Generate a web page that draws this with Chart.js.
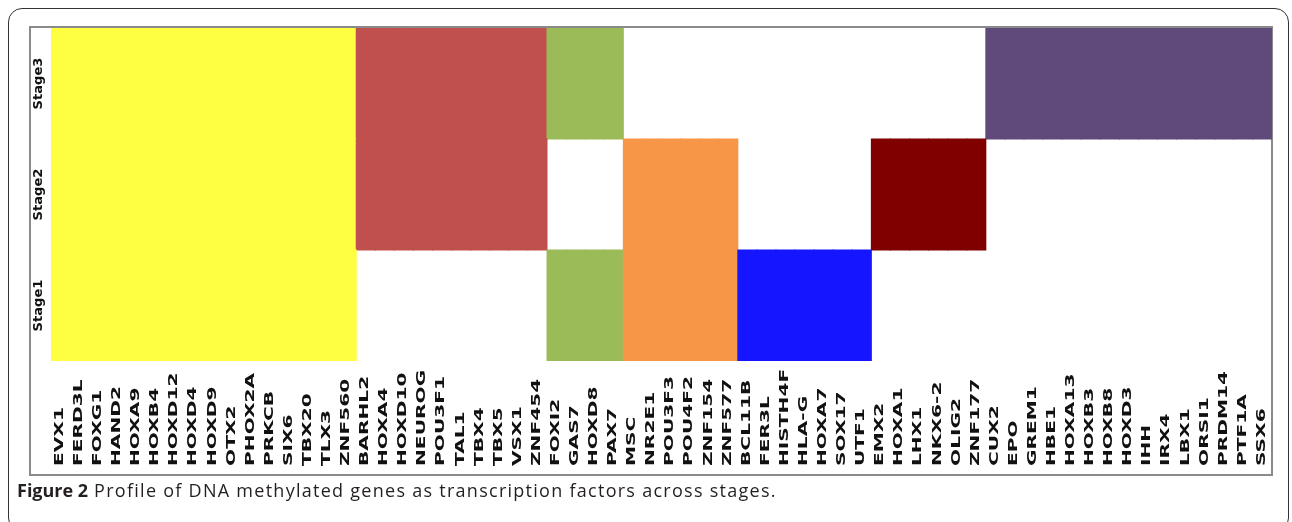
<!DOCTYPE html>
<html>
<head>
<meta charset="utf-8">
<script src="https://cdn.jsdelivr.net/npm/chart.js@4/dist/chart.umd.min.js"></script>
<style>
    html, body { margin: 0; padding: 0; background: #fff; }
    #wrap { position: relative; width: 1292px; height: 522px; overflow: hidden; }
    #box {
        position: absolute; left: 8px; top: 8px; width: 1281px; height: 524px;
        border: 1.5px solid #333; border-radius: 14px; box-sizing: border-box;
    }
    canvas { position: absolute; left: 0; top: 0; }
    #caption {
        position: absolute; left: 17px; top: 478px;
        font-family: "Open Sans", sans-serif; font-size: 18px; color: #231f20;
        white-space: nowrap; letter-spacing: 1.27px;
    }
    #caption b { letter-spacing: 0; }
</style>
</head>
<body>
<div id="wrap">
    <div id="box"></div>
    <canvas id="heat" width="1292" height="522"></canvas>
    <div id="caption"><b>Figure 2</b> Profile of DNA methylated genes as transcription factors across stages.</div>
</div>
<script>
const genes = [
    "EVX1", "FERD3L", "FOXG1", "HAND2", "HOXA9", "HOXB4", "HOXD12", "HOXD4", "HOXD9", "OTX2",
    "PHOX2A", "PRKCB", "SIX6", "TBX20", "TLX3", "ZNF560",
    "BARHL2", "HOXA4", "HOXD10", "NEUROG", "POU3F1", "TAL1", "TBX4", "TBX5", "VSX1", "ZNF454",
    "FOXI2", "GAS7", "HOXD8", "PAX7",
    "MSC", "NR2E1", "POU3F3", "POU4F2", "ZNF154", "ZNF577",
    "BCL11B", "FER3L", "HISTH4F", "HLA-G", "HOXA7", "SOX17", "UTF1",
    "EMX2", "HOXA1", "LHX1", "NKX6-2", "OLIG2", "ZNF177",
    "CUX2", "EPO", "GREM1", "HBE1", "HOXA13", "HOXB3", "HOXB8", "HOXD3", "IHH", "IRX4",
    "LBX1", "ORSI1", "PRDM14", "PTF1A", "SSX6"
];
// cluster of each gene (same order as genes)
const geneCluster = [
    0,0,0,0,0,0,0,0,0,0,0,0,0,0,0,0,
    1,1,1,1,1,1,1,1,1,1,
    2,2,2,2,
    3,3,3,3,3,3,
    4,4,4,4,4,4,4,
    5,5,5,5,5,5,
    6,6,6,6,6,6,6,6,6,6,6,6,6,6,6
];
const stageLabels = ["Stage1", "Stage2", "Stage3"];
// methylated (1) or not (0) in each stage, per cluster
const stage1 = [1, 0, 1, 1, 1, 0, 0];
const stage2 = [1, 1, 0, 1, 0, 1, 0];
const stage3 = [1, 1, 1, 0, 0, 0, 1];
const clusterColors = ["#ffff42", "#c0504d", "#9bbb59", "#f79646", "#1515ff", "#800000", "#604a7b"];

const stageFlags = [stage1, stage2, stage3];

const datasets = stageFlags.map((flags, s) => ({
    label: stageLabels[s],
    data: genes.map((g, i) => flags[geneCluster[i]] ? [s, s + 1] : null),
    backgroundColor: genes.map((g, i) => clusterColors[geneCluster[i]]),
    borderWidth: 0,
    inflateAmount: 0.5,
    barPercentage: 1,
    categoryPercentage: 1,
    grouped: false
}));

const labelPlugin = {
    id: "labels",
    beforeDraw(chart) {
        const { ctx, chartArea } = chart;
        ctx.save();
        ctx.strokeStyle = "#8a8a8a";
        ctx.lineWidth = 2;
        ctx.strokeRect(chartArea.left - 21, chartArea.top - 1, chartArea.right - chartArea.left + 21, chartArea.bottom - chartArea.top + 115);
        ctx.restore();
    },
    afterDraw(chart) {
        const { ctx, scales } = chart;
        const x = scales.x, y = scales.y;
        ctx.save();
        ctx.fillStyle = "#111";
        ctx.font = "bold 13px 'DejaVu Sans'";
        ctx.textBaseline = "middle";
        ctx.textAlign = "left";
        genes.forEach((g, i) => {
            ctx.save();
            ctx.translate(x.getPixelForValue(i) - 1, y.bottom + 105);
            ctx.rotate(-Math.PI / 2);
            ctx.scale(1.55, 1);
            ctx.fillText(g, 0, 0);
            ctx.restore();
        });
        ctx.font = "bold 12.5px 'DejaVu Sans'";
        ctx.textAlign = "center";
        stageLabels.forEach((s, i) => {
            ctx.save();
            ctx.translate(x.left - 12, y.getPixelForValue(i + 0.5));
            ctx.rotate(-Math.PI / 2);
            ctx.scale(1.05, 1);
            ctx.fillText(s, 0, 0);
            ctx.restore();
        });
        ctx.restore();
    }
};

new Chart(document.getElementById("heat"), {
    type: "bar",
    data: { labels: genes, datasets: datasets },
    options: {
        responsive: false,
        animation: false,
        layout: { padding: { left: 51, top: 28, right: 20, bottom: 161 } },
        plugins: { legend: { display: false }, tooltip: { enabled: false } },
        scales: {
            x: { display: false },
            y: { display: false, min: 0, max: 3 }
        }
    },
    plugins: [labelPlugin]
});
</script>
</body>
</html>
